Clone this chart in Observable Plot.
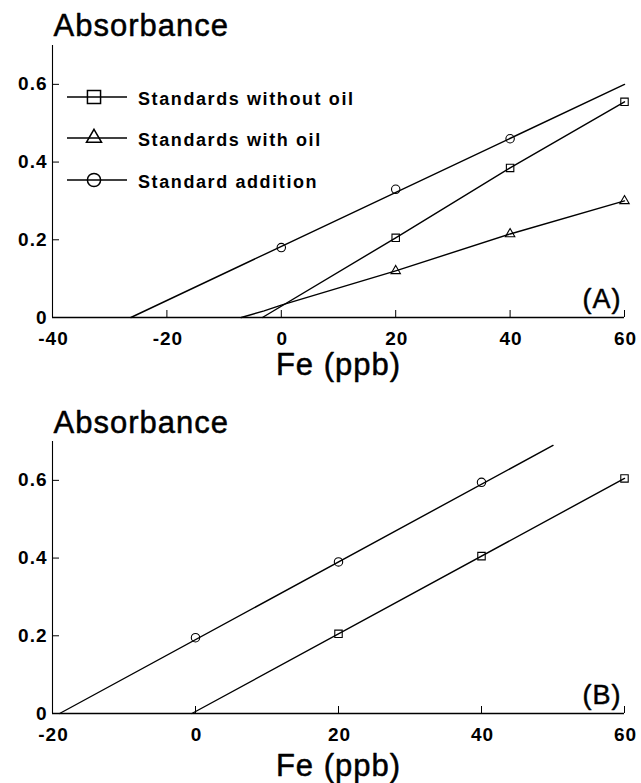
<!DOCTYPE html>
<html><head><meta charset="utf-8">
<script src="https://cdn.jsdelivr.net/npm/d3@7"></script>
<script src="https://cdn.jsdelivr.net/npm/@observablehq/plot@0.6"></script>
<style>
body{margin:0;background:#fff;}
#wrap{position:relative;width:641px;height:783px;font-family:"Liberation Sans",Arial,sans-serif;color:#000;overflow:hidden}
#wrap svg{display:block;letter-spacing:1px}
.lg-sym{position:absolute}
.lg-txt{position:absolute;white-space:nowrap;font-weight:bold;font-size:18px;letter-spacing:1.6px;line-height:22px}
</style></head><body><div id="wrap"></div>
<script>
// ---- text ----
const panelLabels = ["(A)", "(B)"];
const xTitle = "Fe (ppb)";
const yTitle = "Absorbance";
const seriesNames = ["Standards without oil", "Standards with oil", "Standard addition"];
const seriesSymbols = ["square", "triangle", "circle"];

// ---- panel A ----
const aXTicks = [-40, -20, 0, 20, 40, 60];
const aYTicks = [0, 0.2, 0.4, 0.6];
const aWithoutOilX = [20, 40, 60];
const aWithoutOilY = [0.205, 0.385, 0.555];
const aWithoutOilLineX = [-3.3, 20, 40, 60];
const aWithoutOilLineY = [0, 0.205, 0.385, 0.555];
const aWithOilX = [20, 40, 60];
const aWithOilY = [0.12, 0.215, 0.30];
const aWithOilLineX = [-7, -3, 0, 20, 40, 60];
const aWithOilLineY = [0, 0.017, 0.032, 0.12, 0.215, 0.30];
const aAdditionX = [0, 20, 40];
const aAdditionY = [0.18, 0.33, 0.46];
const aAdditionLineX = [-26.3, 60];
const aAdditionLineY = [0, 0.60];

// ---- panel B ----
const bXTicks = [-20, 0, 20, 40, 60];
const bYTicks = [0, 0.2, 0.4, 0.6];
const bWithoutOilX = [20, 40, 60];
const bWithoutOilY = [0.205, 0.405, 0.605];
const bWithoutOilLineX = [-0.5, 60];
const bWithoutOilLineY = [0, 0.605];
const bAdditionX = [0, 20, 40];
const bAdditionY = [0.195, 0.39, 0.595];
const bAdditionLineX = [-19, 50];
const bAdditionLineY = [0, 0.69];

const zip = (xs, ys) => xs.map((x, i) => ({x, y: ys[i]}));
const FONT = "Liberation Sans, Arial, sans-serif";
const W = 641, ML = 52, MR = 17;
const dotR = {square: 4.2, triangle: 3.5, circle: 4.2};
const titleStyle = {stroke: "black", strokeWidth: 0.5, fill: "black"};

function panel({xTicks, yTicks, series, label, height, marginTop, marginBottom, xTitleDy, yTitleDy}) {
  const frameH = height - marginTop - marginBottom;
  const frameW = W - ML - MR;
  const marks = [
    Plot.ruleY([0], {stroke: "black", strokeWidth: 1.4}),
    Plot.ruleX([xTicks[0]], {stroke: "black", strokeWidth: 1.1}),
    Plot.ruleX(xTicks.slice(1), {x: d => d, insetTop: frameH - 7, stroke: "black", strokeWidth: 1}),
    Plot.ruleY(yTicks.slice(1), {y: d => d, insetRight: frameW - 7, stroke: "black", strokeWidth: 1}),
    // tick labels, positioned by the x / y scales
    Plot.text(xTicks, {x: d => d, frameAnchor: "bottom", text: d => String(d), lineAnchor: "middle", dy: 21, dx: 1, fontSize: 19, fontWeight: "bold"}),
    Plot.text(yTicks, {y: d => d, frameAnchor: "left", text: d => String(d), textAnchor: "end", lineAnchor: "middle", dx: -5, fontSize: 19, fontWeight: "bold"})
  ];
  for (const s of series) {
    marks.push(Plot.line(zip(s.lx, s.ly), {x: "x", y: "y", stroke: "black", strokeWidth: 1.4}));
    marks.push(Plot.dot(zip(s.px, s.py), {x: "x", y: "y", symbol: s.symbol, r: dotR[s.symbol], stroke: "black", fill: "none", strokeWidth: 1.1}));
  }
  marks.push(Plot.text([yTitle], {text: d => d, frameAnchor: "top-left", textAnchor: "start", lineAnchor: "bottom", dx: 1, dy: yTitleDy, fontSize: 31, ...titleStyle}));
  marks.push(Plot.text([xTitle], {text: d => d, frameAnchor: "bottom", lineAnchor: "middle", dy: xTitleDy, fontSize: 31, ...titleStyle}));
  marks.push(Plot.text([label], {text: d => d, frameAnchor: "bottom-right", textAnchor: "end", lineAnchor: "bottom", dx: -3, dy: -10, fontSize: 27, ...titleStyle}));
  return Plot.plot({
    width: W, height, marginLeft: ML, marginRight: MR, marginTop, marginBottom,
    style: {fontFamily: FONT, background: "white", color: "black", overflow: "visible"},
    x: {domain: [xTicks[0], 60], axis: null},
    y: {domain: [0, 0.7], axis: null},
    marks
  });
}

const wrap = document.getElementById("wrap");

wrap.appendChild(panel({
  xTicks: aXTicks, yTicks: aYTicks, label: panelLabels[0],
  height: 392, marginTop: 45, marginBottom: 75, xTitleDy: 48, yTitleDy: -10,
  series: [
    {lx: aWithoutOilLineX, ly: aWithoutOilLineY, px: aWithoutOilX, py: aWithoutOilY, symbol: seriesSymbols[0]},
    {lx: aWithOilLineX, ly: aWithOilLineY, px: aWithOilX, py: aWithOilY, symbol: seriesSymbols[1]},
    {lx: aAdditionLineX, ly: aAdditionLineY, px: aAdditionX, py: aAdditionY, symbol: seriesSymbols[2]}
  ]
}));

wrap.appendChild(panel({
  xTicks: bXTicks, yTicks: bYTicks, label: panelLabels[1],
  height: 391, marginTop: 49, marginBottom: 70, xTitleDy: 53, yTitleDy: -9,
  series: [
    {lx: bWithoutOilLineX, ly: bWithoutOilLineY, px: bWithoutOilX, py: bWithoutOilY, symbol: seriesSymbols[0]},
    {lx: bAdditionLineX, ly: bAdditionLineY, px: bAdditionX, py: bAdditionY, symbol: seriesSymbols[2]}
  ]
}));

// ---- legend (panel A) ----
const legendRows = [97, 138, 180];
const symbolR = [7.4, 5.6, 6.6];
seriesNames.forEach((name, i) => {
  const svg = d3.create("svg").attr("class", "lg-sym")
    .attr("width", 76).attr("height", 24)
    .style("left", "60px").style("top", (legendRows[i] - 12) + "px");
  svg.append("line").attr("x1", 7).attr("x2", 67).attr("y1", 12).attr("y2", 12)
    .attr("stroke", "black").attr("stroke-width", 1.3);
  const sym = {square: d3.symbolSquare, triangle: d3.symbolTriangle, circle: d3.symbolCircle}[seriesSymbols[i]];
  svg.append("path").attr("transform", "translate(34,12)")
    .attr("d", d3.symbol(sym, Math.PI * symbolR[i] * symbolR[i])())
    .attr("fill", "none").attr("stroke", "black").attr("stroke-width", 1.5);
  wrap.appendChild(svg.node());
  const t = document.createElement("div");
  t.className = "lg-txt";
  t.style.left = "138px";
  t.style.top = (legendRows[i] - 9) + "px";
  t.textContent = name;
  wrap.appendChild(t);
});
</script></body></html>
